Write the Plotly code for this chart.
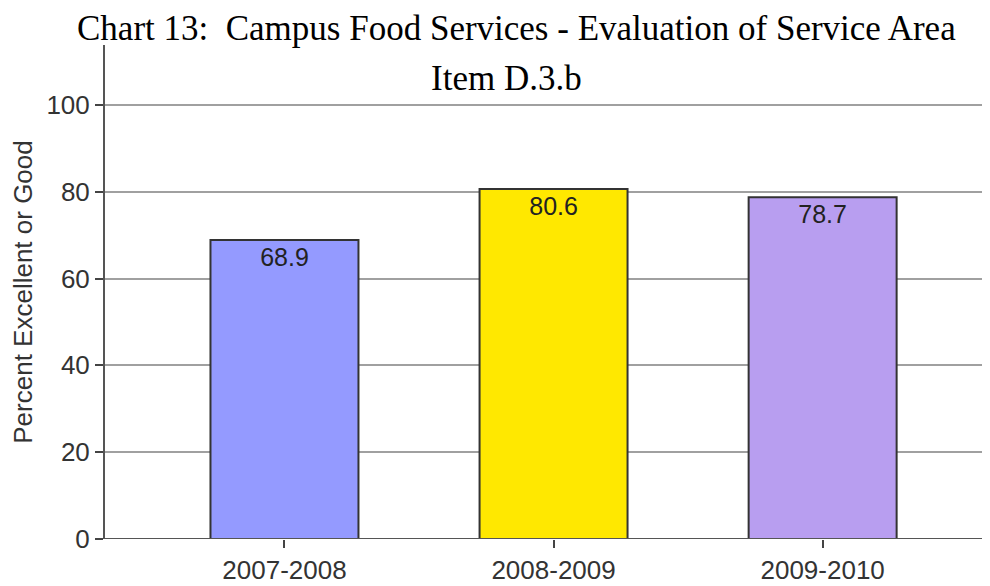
import plotly.graph_objects as go

categories = ["2007-2008", "2008-2009", "2009-2010"]
values = [68.9, 80.6, 78.7]
bar_colors = ["#949AFF", "#FFE800", "#B89EF0"]
y_ticks = [0, 20, 40, 60, 80, 100]

# page body has an 8px offset; margins are given in figure coordinates
ML, MR, MT, MB = 94, 8, 37, 55
W, H = 990, 586

fig = go.Figure(go.Bar(
    x=list(range(len(categories))),
    y=values,
    text=[f"{v:.1f}" for v in values],
    textposition="inside",
    insidetextanchor="end",
    textfont=dict(family="Liberation Sans, Arial", size=25, color="#222222"),
    marker=dict(color=bar_colors, line=dict(color="#333333", width=2)),
    width=0.55,
))

fig.update_layout(
    width=W, height=H,
    margin=dict(l=ML, r=MR, t=MT, b=MB),
    plot_bgcolor="white", paper_bgcolor="white",
    showlegend=False,
    xaxis=dict(
        tickmode="array", tickvals=list(range(len(categories))), ticktext=categories,
        range=[-0.667, 2.622], showgrid=False, zeroline=False,
        showline=False, ticks="outside", ticklen=8, tickwidth=2, tickcolor="#444444",
        tickfont=dict(family="Liberation Sans, Arial", size=26, color="#333333"),
    ),
    yaxis=dict(
        range=[0, 113.8], tickvals=y_ticks, showgrid=True, gridcolor="#A0A0A0", gridwidth=2,
        zeroline=False, showline=True, linecolor="#555555", linewidth=2,
        ticks="outside", ticklen=8, tickwidth=2, tickcolor="#444444",
        tickfont=dict(family="Liberation Sans, Arial", size=26, color="#333333"),
        title=dict(text="Percent Excellent or Good", standoff=12,
                   font=dict(family="Liberation Sans, Arial", size=26, color="#333333")),
    ),
)

plot_h = H - MT - MB
plot_w = W - ML - MR
def px_to_paper(px_x, px_y):
    # px given in window coordinates
    fx, fy = px_x - 8, px_y - 8
    return (fx - ML) / plot_w, (H - MB - fy) / plot_h

tx, ty = px_to_paper(515, 29)
ix, iy = px_to_paper(505, 78)
fig.add_annotation(text="Chart 13:  Campus Food Services - Evaluation of Service Area",
                   x=tx, y=ty, xref="paper", yref="paper", showarrow=False,
                   xanchor="center", yanchor="middle",
                   font=dict(family="Liberation Serif, Times New Roman", size=35, color="#000000"))
fig.add_annotation(text="Item D.3.b", x=ix, y=iy, xref="paper", yref="paper", showarrow=False,
                   xanchor="center", yanchor="middle",
                   font=dict(family="Liberation Serif, Times New Roman", size=35, color="#000000"))

# baseline at zero
fig.add_shape(type="line", xref="paper", yref="y", x0=0, x1=1, y0=0, y1=0,
              line=dict(color="#555555", width=2))

fig.write_html("out.html")
